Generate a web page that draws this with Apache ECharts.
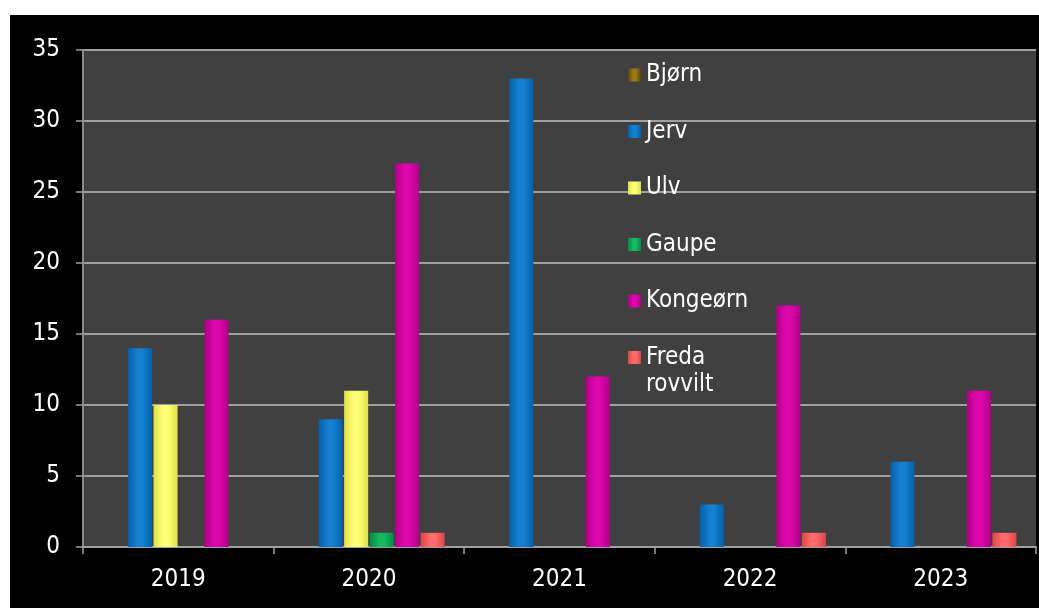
<!DOCTYPE html>
<html>
<head>
<meta charset="utf-8">
<script src="https://cdn.jsdelivr.net/npm/echarts@6/dist/echarts.min.js"></script>
<style>
html,body{margin:0;padding:0;background:#fff;width:1039px;height:608px;overflow:hidden;}
#c{position:absolute;left:10px;top:15px;width:1029px;height:593px;background:#000;}
</style>
</head>
<body>
<div id="c"></div>
<script>
const categories = ['2019', '2020', '2021', '2022', '2023'];
const seriesNames = ['Bjørn', 'Jerv', 'Ulv', 'Gaupe', 'Kongeørn', 'Freda rovvilt'];
const bjorn = [0, 0, 0, 0, 0];
const jerv = [14, 9, 33, 3, 6];
const ulv = [10, 11, 0, 0, 0];
const gaupe = [0, 1, 0, 0, 0];
const kongeorn = [16, 27, 12, 17, 11];
const fredaRovvilt = [0, 1, 0, 1, 1];
const yTicks = {min: 0, max: 35, interval: 5};

const values = [bjorn, jerv, ulv, gaupe, kongeorn, fredaRovvilt];
const palette = [
  {base: '#7f6000', edge: '#5a4400', mid: '#9a7a1a'},
  {base: '#0a70c2', edge: '#0560a8', mid: '#1480d0'},
  {base: '#f8f860', edge: '#e0e048', mid: '#ffff78'},
  {base: '#00a850', edge: '#008c44', mid: '#18b860'},
  {base: '#d000a0', edge: '#b00088', mid: '#dc08ac'},
  {base: '#ee5a5a', edge: '#d84848', mid: '#ff6a6a'}
];
function grad(p) {
  return new echarts.graphic.LinearGradient(0, 0, 1, 0, [
    {offset: 0, color: p.edge},
    {offset: 0.4, color: p.mid},
    {offset: 0.6, color: p.mid},
    {offset: 1, color: p.edge}
  ]);
}
const FONT = '"DejaVu Sans Condensed", "DejaVu Sans", sans-serif';
const chart = echarts.init(document.getElementById('c'));
chart.setOption({
  backgroundColor: '#000',
  animation: false,
  color: palette.map(p => p.base),
  grid: {left: 73, right: 3, top: 35, bottom: 61, show: true, backgroundColor: '#404040', borderWidth: 0},
  legend: [{
    data: seriesNames.slice(0, 5),
    orient: 'vertical',
    left: 618,
    top: 46.5,
    padding: 0,
    itemWidth: 13,
    itemHeight: 13,
    itemGap: 29.5,
    icon: 'rect',
    textStyle: {color: '#fff', fontSize: 24, fontFamily: FONT, lineHeight: 27}
  }, {
    data: [seriesNames[5]],
    orient: 'vertical',
    left: 618,
    top: 302,
    padding: 0,
    itemWidth: 13,
    itemHeight: 13,
    icon: 'rect',
    formatter: function () { return ' \nFreda\nrovvilt'; },
    textStyle: {color: '#fff', fontSize: 24, fontFamily: FONT, lineHeight: 27}
  }],
  xAxis: {
    type: 'category',
    data: categories,
    axisLine: {lineStyle: {color: '#a0a0a0', width: 2}},
    axisTick: {show: true, length: 7, lineStyle: {color: '#a0a0a0', width: 1.5}},
    axisLabel: {color: '#fff', fontSize: 24, fontFamily: FONT, margin: 21}
  },
  yAxis: {
    type: 'value',
    min: yTicks.min,
    max: yTicks.max,
    interval: yTicks.interval,
    axisLine: {show: true, lineStyle: {color: '#8a8a8a', width: 2}},
    axisTick: {show: true, length: 7, lineStyle: {color: '#a0a0a0', width: 1.5}},
    axisLabel: {color: '#fff', fontSize: 24, fontFamily: FONT, margin: 23},
    splitLine: {show: true, lineStyle: {color: '#a0a0a0', width: 2}}
  },
  series: seriesNames.map((name, i) => ({
    name: name,
    type: 'bar',
    data: values[i],
    barGap: '6%',
    barCategoryGap: '20.5%',
    itemStyle: {color: grad(palette[i])},
    emphasis: {disabled: true}
  }))
});
</script>
</body>
</html>
